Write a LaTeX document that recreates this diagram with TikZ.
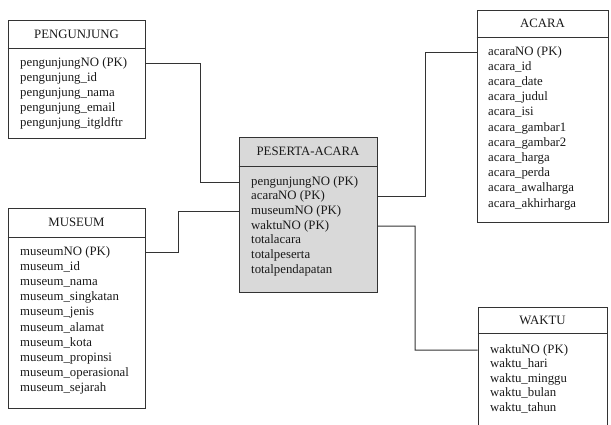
\documentclass[tikz,border=0pt]{standalone}
\usepackage{fontspec}
\setmainfont{Liberation Serif}
\begin{document}
\begin{tikzpicture}[x=1pt,y=-1pt,
  tbl/.style={draw=black!80, line width=1pt, inner sep=0pt},
  divider/.style={draw=black!80, line width=1pt},
  link/.style={draw=black!80, line width=1pt},
  title/.style={font=\fontsize{12.8}{15}\selectfont, text=black!90, inner sep=0pt},
  row/.style={anchor=west, font=\fontsize{12.8}{15}\selectfont, text=black!90,
              inner sep=0pt, text height=9pt, text depth=3pt}]
\useasboundingbox (0,0) rectangle (611,424);
\clip (0,0) rectangle (611,424);

% table frames
\node[tbl, minimum width=137pt, minimum height=118pt] (peng) at (76.5,79) {};
\node[tbl, minimum width=137pt, minimum height=200pt] (mus) at (76.5,308) {};
\node[tbl, fill=black!15, minimum width=138pt, minimum height=155pt] (pa) at (308,214.5) {};
\node[tbl, minimum width=131pt, minimum height=212pt] (acara) at (542.5,116) {};
\node[tbl, minimum width=129pt, minimum height=140pt] (waktu) at (542.5,377) {};

% header dividers
\draw[divider] (peng.west |- 0,48) -- (peng.east |- 0,48);
\draw[divider] (mus.west |- 0,237) -- (mus.east |- 0,237);
\draw[divider] (pa.west |- 0,166) -- (pa.east |- 0,166);
\draw[divider] (acara.west |- 0,37) -- (acara.east |- 0,37);
\draw[divider] (waktu.west |- 0,333) -- (waktu.east |- 0,333);

% table names
\node[title] (pengT) at (76.5,34) {PENGUNJUNG};
\node[title] (musT) at (76.5,222) {MUSEUM};
\node[title] (paT) at (308,151.5) {PESERTA-ACARA};
\node[title] (acaraT) at (542.5,23.5) {ACARA};
\node[title] (waktuT) at (542.5,320) {WAKTU};

% attributes
\foreach \t [count=\i] in {pengunjungNO (PK), pengunjung\_id, pengunjung\_nama,
    pengunjung\_email, pengunjung\_itgldftr}
  \node[row] (p\i) at (20,{63+15.2*(\i-1)}) {\t};
\foreach \t [count=\i] in {museumNO (PK), museum\_id, museum\_nama, museum\_singkatan,
    museum\_jenis, museum\_alamat, museum\_kota, museum\_propinsi,
    museum\_operasional, museum\_sejarah}
  \node[row] (m\i) at (20,{252+15.2*(\i-1)}) {\t};
\foreach \t [count=\i] in {pengunjungNO (PK), acaraNO (PK), museumNO (PK), waktuNO (PK),
    totalacara, totalpeserta, totalpendapatan}
  \node[row] (pa\i) at (251,{182+14.7*(\i-1)}) {\t};
\foreach \t [count=\i] in {acaraNO (PK), acara\_id, acara\_date, acara\_judul, acara\_isi,
    acara\_gambar1, acara\_gambar2, acara\_harga, acara\_perda,
    acara\_awalharga, acara\_akhirharga}
  \node[row] (a\i) at (488,{52+15.2*(\i-1)}) {\t};
\foreach \t [count=\i] in {waktuNO (PK), waktu\_hari, waktu\_minggu, waktu\_bulan,
    waktu\_tahun}
  \node[row] (w\i) at (490,{350+14.5*(\i-1)}) {\t};

% relationships
\draw[link] (peng.east |- p1.west) -- (200,63) |- (pa.west |- pa1.west);
\draw[link] (mus.east |- m1.west) -- (178,252) |- (pa.west |- pa3.west);
\draw[link] (pa.east |- pa2.west) -- (425,196.7) |- (acara.west |- a1.west);
\draw[link] (pa.east |- pa4.west) -- (415,226.1) |- (waktu.west |- w1.west);
\end{tikzpicture}
\end{document}
